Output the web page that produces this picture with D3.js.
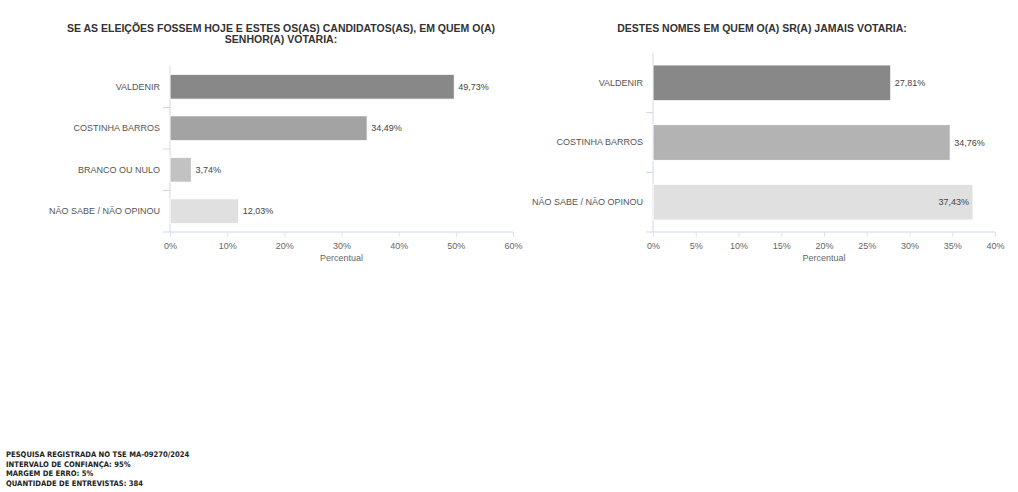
<!DOCTYPE html>
<html>
<head>
<meta charset="utf-8">
<script src="https://cdn.jsdelivr.net/npm/d3@7"></script>
<style>
  body { margin: 0; background: #fff; }
  svg { display: block; font-family: "Liberation Sans", Arial, sans-serif; }
</style>
</head>
<body>
<script>
var w = 1018;
var h = 492;

// left chart: vote intention
var votoCats = ["VALDENIR", "COSTINHA BARROS", "BRANCO OU NULO", "NÃO SABE / NÃO OPINOU"];
var votoVals = [49.73, 34.49, 3.74, 12.03];
var votoCores = ["#888888", "#a3a3a3", "#c2c2c2", "#e0e0e0"];
var votoTicks = [0, 10, 20, 30, 40, 50, 60];

// right chart: rejection
var rejCats = ["VALDENIR", "COSTINHA BARROS", "NÃO SABE / NÃO OPINOU"];
var rejVals = [27.81, 34.76, 37.43];
var rejCores = ["#888888", "#b3b3b3", "#e0e0e0"];
var rejTicks = [0, 5, 10, 15, 20, 25, 30, 35, 40];

var rodape = [
  "PESQUISA REGISTRADA NO TSE MA-09270/2024",
  "INTERVALO DE CONFIANÇA: 95%",
  "MARGEM DE ERRO: 5%",
  "QUANTIDADE DE ENTREVISTAS: 384"
];

var svg = d3.select("body")
            .append("svg")
              .attr("width", w)
              .attr("height", h);

function fmt(v) {
  return v.toFixed(2).replace(".", ",") + "%";
}

function barChart(opt) {
  var x = d3.scaleLinear()
            .domain([0, opt.max])
            .range([opt.x0, opt.x1]);
  var y = d3.scaleBand()
            .domain(opt.cats)
            .range([opt.y0, opt.y1])
            .paddingInner(0.4)
            .paddingOuter(0.2);

  var g = svg.append("g");

  // title
  var t = g.append("text")
            .attr("text-anchor", "middle")
            .attr("font-size", "10.5px")
            .attr("font-weight", "bold")
            .attr("fill", "#333");
  opt.title.forEach(function(line, i) {
    t.append("tspan")
      .attr("x", opt.tx)
      .attr("y", opt.ty + i * 11)
      .text(line);
  });

  // x axis
  var xa = g.append("g")
            .attr("transform", "translate(0," + opt.y1 + ")")
            .call(d3.axisBottom(x).tickValues(opt.ticks).tickSize(5).tickFormat(function(d) { return d + "%"; }));
  xa.select(".domain").attr("stroke", "#ccd6eb").attr("d", "M" + (opt.x0 - 7) + ",0H" + opt.x1);
  xa.selectAll(".tick line").attr("stroke", "#dde4f0");
  xa.selectAll(".tick text")
    .attr("fill", "#666")
    .attr("font-size", "9px")
    .attr("dy", "1em");

  g.append("text")
    .attr("x", (opt.x0 + opt.x1) / 2)
    .attr("y", opt.y1 + 29)
    .attr("text-anchor", "middle")
    .attr("font-size", "9px")
    .attr("fill", "#666")
    .text("Percentual");

  // y axis
  var ya = g.append("g")
            .attr("transform", "translate(" + opt.x0 + ",0)")
            .call(d3.axisLeft(y).tickSize(0).tickPadding(10));
  ya.select(".domain").attr("stroke", "#ccd6eb").attr("d", "M0," + opt.y0 + "V" + opt.y1);
  ya.selectAll(".tick text")
    .attr("fill", "#555")
    .attr("font-size", "9px");

  // category separators
  var step = y.step();
  g.selectAll(".sep")
    .data(opt.cats.slice(1))
    .enter()
    .append("line")
      .attr("x1", opt.x0 - 7)
      .attr("x2", opt.x0)
      .attr("y1", function(d) { return y(d) - step * 0.2; })
      .attr("y2", function(d) { return y(d) - step * 0.2; })
      .attr("stroke", "#ccd6eb");

  // bars
  g.selectAll(".bar")
    .data(opt.vals)
    .enter()
    .append("rect")
      .attr("x", x(0))
      .attr("y", function(d, i) { return y(opt.cats[i]); })
      .attr("width", function(d) { return x(d) - x(0); })
      .attr("height", y.bandwidth())
      .attr("fill", function(d, i) { return opt.cores[i]; })
      .attr("stroke", "#fff")
      .attr("stroke-width", 1);

  // value labels (inside the bar when they would overflow the plot)
  function inside(d) { return x(d) + 38 > opt.x1; }
  g.selectAll(".lbl")
    .data(opt.vals)
    .enter()
    .append("text")
      .attr("x", function(d) { return inside(d) ? x(d) - 4 : x(d) + 4; })
      .attr("y", function(d, i) { return y(opt.cats[i]) + y.bandwidth() / 2; })
      .attr("dy", "0.35em")
      .attr("text-anchor", function(d) { return inside(d) ? "end" : "start"; })
      .attr("font-size", "9px")
      .attr("fill", "#444")
      .text(fmt);
}

barChart({
  cats: votoCats, vals: votoVals, cores: votoCores, ticks: votoTicks, max: 60,
  x0: 170, x1: 513, y0: 66, y1: 232,
  title: ["SE AS ELEIÇÕES FOSSEM HOJE E ESTES OS(AS) CANDIDATOS(AS), EM QUEM O(A)", "SENHOR(A) VOTARIA:"],
  tx: 281, ty: 32
});

barChart({
  cats: rejCats, vals: rejVals, cores: rejCores, ticks: rejTicks, max: 40,
  x0: 653, x1: 995, y0: 53, y1: 232,
  title: ["DESTES NOMES EM QUEM O(A) SR(A) JAMAIS VOTARIA:"],
  tx: 762, ty: 32
});

// footer
var f = svg.append("text")
          .attr("font-family", "'DejaVu Sans Condensed', 'Liberation Sans Narrow', sans-serif")
          .attr("font-size", "7.6px")
          .attr("font-weight", "bold")
          .attr("fill", "#222");
rodape.forEach(function(line, i) {
  f.append("tspan")
    .attr("x", 6)
    .attr("y", 457 + i * 9.6)
    .text(line);
});
</script>
</body>
</html>
